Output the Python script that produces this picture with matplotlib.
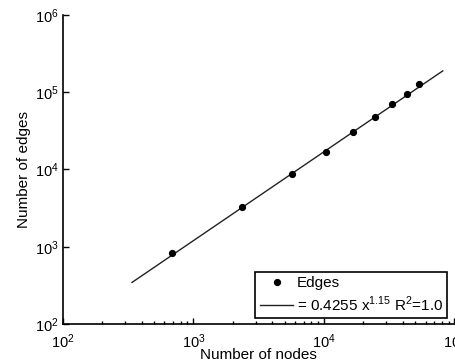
import numpy as np
import matplotlib
matplotlib.use("Agg")
import matplotlib.pyplot as plt

plt.rcParams['font.family'] = ['Liberation Sans', 'DejaVu Sans']
plt.rcParams['mathtext.fontset'] = 'custom'
plt.rcParams['mathtext.rm'] = 'Liberation Sans'

# observed graph sizes
nodes = [681, 2340, 5720, 10300, 16800, 24500, 33400, 43000, 53500]
edges = [838, 3300, 8670, 17000, 30800, 48200, 70400, 94800, 126800]

# power-law fit  y = a * x^b
fit_a = 0.4255
fit_b = 1.15
fit_range = [338, 81300]

fig = plt.figure(figsize=(4.56, 3.64), dpi=100)
ax = fig.add_axes([0.138, 0.11, 0.8587, 0.849])

xf = np.logspace(np.log10(fit_range[0]), np.log10(fit_range[1]), 50)
ax.plot(xf, fit_a * xf ** fit_b, color='#222222', lw=1.0,
        label=r'= 0.4255 x$^{1.15}$ R$^{2}$=1.0')
ax.plot(nodes, edges, 'o', color='black', ms=4.2, label='Edges')

ax.set_xscale('log')
ax.set_yscale('log')
ax.set_xlim(1e2, 1e5)
ax.set_ylim(1e2, 1e6)
ax.set_xticks([1e2, 1e3, 1e4, 1e5])
ax.set_yticks([1e2, 1e3, 1e4, 1e5, 1e6])
ax.minorticks_off()
ax.xaxis.set_minor_locator(matplotlib.ticker.LogLocator(base=10, subs=np.arange(2, 10)))
ax.xaxis.set_minor_formatter(matplotlib.ticker.NullFormatter())

ax.spines['top'].set_visible(False)
ax.spines['right'].set_visible(False)
ax.spines['left'].set_linewidth(1.2)
ax.spines['bottom'].set_linewidth(1.2)
ax.tick_params(which='both', direction='in', labelsize=10.5, colors='black')
ax.tick_params(which='major', length=4, width=1)
ax.tick_params(axis='x', which='major', pad=6)
ax.tick_params(axis='y', which='major', pad=3)
ax.tick_params(which='minor', length=2.5, width=1)

ax.set_xlabel('Number of nodes', fontsize=11, labelpad=-2)
ax.set_ylabel('Number of edges', fontsize=11, labelpad=3)

h, l = ax.get_legend_handles_labels()
leg = ax.legend(h[::-1], l[::-1], loc='lower right', fontsize=11, frameon=True,
                fancybox=False, framealpha=1, edgecolor='black',
                handlelength=2.2, handletextpad=0.2, borderpad=0.3,
                labelspacing=0.25, borderaxespad=0,
                bbox_to_anchor=(0.982, 0.019))
leg.get_frame().set_linewidth(1.2)

fig.savefig('out.png', dpi=100)
